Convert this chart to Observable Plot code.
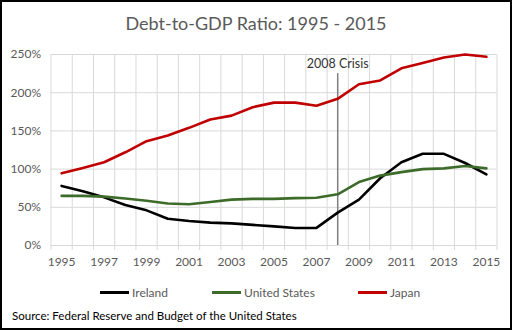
<!DOCTYPE html>
<html>
<head>
<meta charset="utf-8">
<script src="https://cdn.jsdelivr.net/npm/d3@7"></script>
<script src="https://cdn.jsdelivr.net/npm/@observablehq/plot@0.6"></script>
<style>
  html, body { margin: 0; padding: 0; background: #fff; }
  body { width: 512px; height: 330px; position: relative; overflow: hidden; font-family: Lato, "Open Sans", sans-serif; }
  #frame { position: absolute; left: 0; top: 0; width: 512px; height: 330px; box-sizing: border-box; border: 2px solid #000; pointer-events: none; }
  #title { position: absolute; left: 0; width: 512px; top: 12px; text-align: center; font-size: 18px; color: #595959; }
  #chart { position: absolute; left: 0; top: 45px; }
  #legend { position: absolute; left: 0; top: 284px; width: 512px; height: 16px; font-size: 12px; color: #595959; }
  .item { position: absolute; top: 0; display: flex; align-items: center; height: 16px; }
  .swatch { width: 29px; height: 3px; margin-right: 3px; }
  #source { position: absolute; left: 12px; top: 309px; font-size: 11.5px; color: #000; }
</style>
</head>
<body>
<div id="title">Debt-to-GDP Ratio: 1995 - 2015</div>
<div id="chart"></div>
<div id="legend"></div>
<div id="source">Source: Federal Reserve and Budget of the United States</div>
<div id="frame"></div>
<script>
const years = [1995,1996,1997,1998,1999,2000,2001,2002,2003,2004,2005,2006,2007,2008,2009,2010,2011,2012,2013,2014,2015];
const ireland = [78,71,63,53,46,35,32,30,29,27,25,23,23,43,60,88,109,120,120,108,93];
const unitedStates = [65,65,64,61.5,58.5,55,54,57,60,61,61,62,62.5,67,83,91.5,96,100,101,104,101];
const japan = [94.5,101.5,109,122,136.5,144,154,165,170,181,187,187,183,192,211,216,232,239,246,250,247];
const seriesNames = ["Ireland", "United States", "Japan"];
const seriesColors = ["#000000", "#3d6b2a", "#c00000"];
const yTicks = [0, 0.5, 1, 1.5, 2, 2.5];
const crisisYear = 2008;
const crisisLabel = "2008 Crisis";
const crisisTop = 2.25;

const seriesValues = [ireland, unitedStates, japan];
const data = [];
seriesNames.forEach((name, i) => {
  years.forEach((yr, j) => data.push({year: yr, value: seriesValues[i][j] / 100, series: name}));
});
const boundaries = years.map(y => y - 0.5).concat([years[years.length - 1] + 0.5]);
const labelYears = years.filter((y, i) => i % 2 === 0);

const plot = Plot.plot({
  width: 512,
  height: 225,
  marginLeft: 50.5,
  marginRight: 15.5,
  marginTop: 9,
  marginBottom: 25,
  style: { fontFamily: "Lato, 'Open Sans', sans-serif", fontSize: "12px", color: "#595959", background: "transparent" },
  x: { domain: [boundaries[0], boundaries[boundaries.length - 1]], axis: null },
  y: { domain: [0, 2.5], axis: null },
  color: { domain: seriesNames, range: seriesColors },
  marks: [
    Plot.gridY(yTicks.filter(d => d > 0), { stroke: "#d9d9d9", strokeOpacity: 1, strokeWidth: 1 }),
    Plot.ruleY([0], { stroke: "#d9d9d9", strokeWidth: 1 }),
    Plot.tickX(boundaries, { x: d => d, y1: 0, y2: 0, stroke: "#d9d9d9", insetBottom: -5 }),
    Plot.text(yTicks, { x: boundaries[0], y: d => d, text: d => d3.format(".0%")(d), textAnchor: "end", dx: -10, fill: "#595959", fontSize: 12 }),
    Plot.text(labelYears, { x: d => d, y: 0, text: d => String(d), dy: 17, fill: "#595959", fontSize: 12 }),
    Plot.ruleX([crisisYear], { y1: 0, y2: crisisTop, stroke: "#7f7f7f", strokeWidth: 1.5 }),
    Plot.text([crisisLabel], { x: crisisYear, y: crisisTop, text: d => d, dy: -10, fill: "#333333", fontSize: 12.5 }),
    Plot.line(data, { x: "year", y: "value", z: "series", stroke: "series", strokeWidth: 2.6, strokeLinejoin: "round" })
  ]
});
document.getElementById("chart").appendChild(plot);

const legendX = [100, 212, 358];
const legend = document.getElementById("legend");
seriesNames.forEach((name, i) => {
  const item = document.createElement("div");
  item.className = "item";
  item.style.left = legendX[i] + "px";
  item.innerHTML = `<span class="swatch" style="background:${seriesColors[i]}"></span><span>${name}</span>`;
  legend.appendChild(item);
});
</script>
</body>
</html>
